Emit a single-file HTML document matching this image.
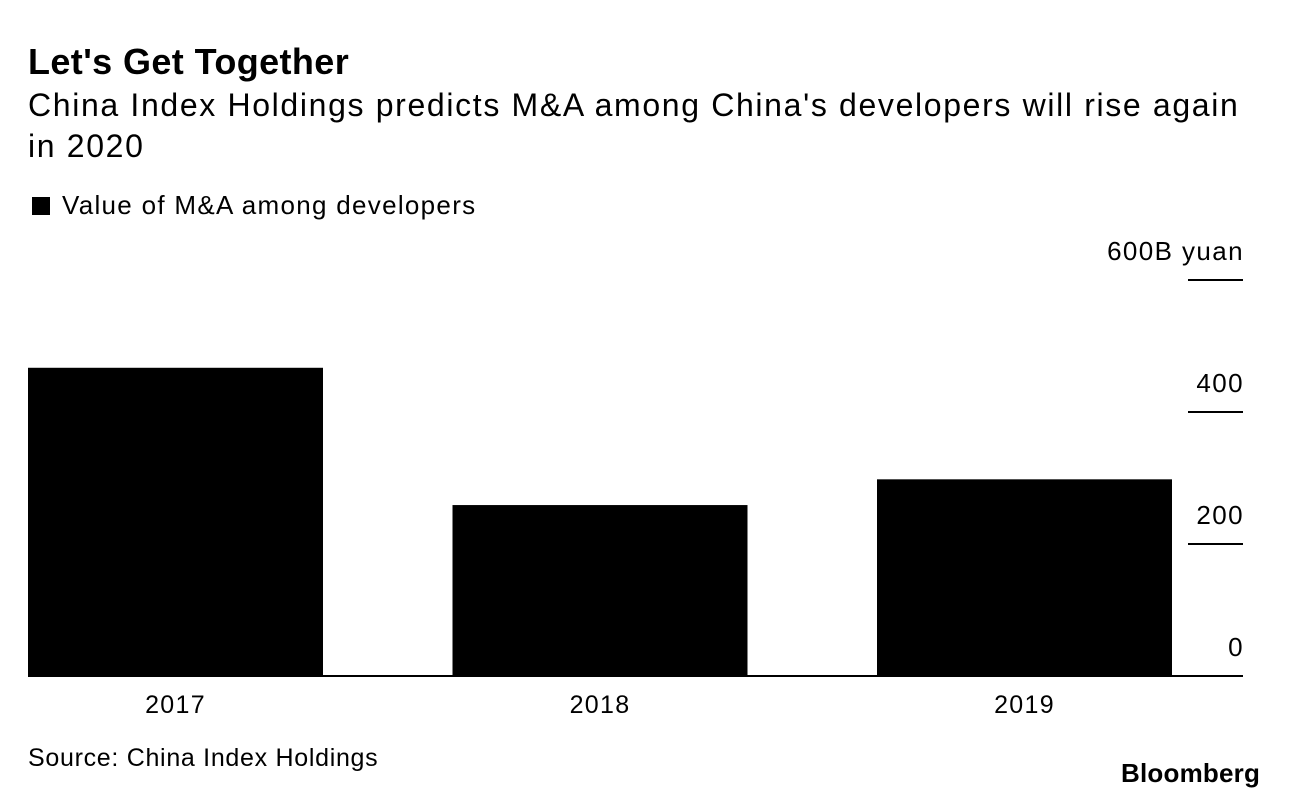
<!DOCTYPE html>
<html><head><meta charset="utf-8"><style>
body{margin:0;background:#fff;width:1289px;height:798px;overflow:hidden;font-family:"Liberation Sans",sans-serif;color:#000;position:relative}
.t{position:absolute;white-space:nowrap}
</style></head><body>
<div class="t" style="left:28px;top:41px;font-size:36px;font-weight:bold;letter-spacing:0.4px">Let's Get Together</div>
<div class="t" style="left:28px;top:85px;font-size:32px;line-height:41px;letter-spacing:1.65px">China Index Holdings predicts M&amp;A among China's developers will rise again<br>in 2020</div>
<div class="t" style="left:32px;top:190px;font-size:26px;letter-spacing:1.3px"><span style="display:inline-block;width:18px;height:18px;background:#000;margin-right:12px;vertical-align:-1px"></span>Value of M&amp;A among developers</div>
<svg id="chart" width="1289" height="798" style="position:absolute;left:0;top:0"></svg>
<div class="t" style="left:28px;top:744px;font-size:25px;letter-spacing:0.7px">Source: China Index Holdings</div>
<div class="t" style="left:1121px;top:758px;font-size:26px;font-weight:bold;letter-spacing:0.2px">Bloomberg</div>
<script>
const categories=["2017","2018","2019"];
const values=[467,259,298];
const tickValues=[0,200,400,600];
const tickLabels=["0","200","400","600B yuan"];
const svg=document.getElementById('chart');
const NS='http://www.w3.org/2000/svg';
const y0=676,pxPerUnit=132/200;
function yScale(v){return y0-v*pxPerUnit;}
const barStart=28,barStep=424.5,barW=295;
function xScale(i){return barStart+i*barStep;}
function mk(tag,attrs){const e=document.createElementNS(NS,tag);for(const k in attrs)e.setAttribute(k,attrs[k]);svg.appendChild(e);return e;}
values.forEach((v,i)=>{
 const r=mk('rect',{x:xScale(i),y:yScale(v),width:barW,height:y0-yScale(v),fill:'#000'});
 
 
 const t=mk('text',{x:xScale(i)+barW/2,y:713,'text-anchor':'middle','font-size':25,'letter-spacing':1.3,'font-family':'Liberation Sans, sans-serif'});
 t.textContent=categories[i];
 
 
});
tickValues.forEach((v,i)=>{
 if(v>0){const l=mk('line',{x1:1188,x2:1243,y1:yScale(v),y2:yScale(v),stroke:'#000','stroke-width':2});
 
 }
 const t=mk('text',{x:1244,y:yScale(v)-20,'text-anchor':'end','font-size':26,'letter-spacing':1.4,'font-family':'Liberation Sans, sans-serif'});
 t.textContent=tickLabels[i];
 
 
});
const base=mk('line',{x1:28,x2:1243,y1:y0,y2:y0,stroke:'#000','stroke-width':2});


</script>
</body></html>
